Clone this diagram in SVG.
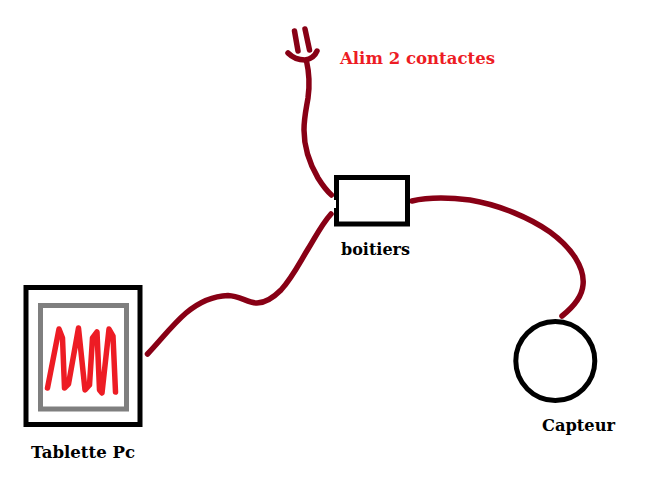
<svg xmlns="http://www.w3.org/2000/svg" width="654" height="480" viewBox="0 0 654 480">
<style>
.w{fill:none;stroke:#880015;stroke-width:5.500;stroke-linecap:round;stroke-linejoin:round}
.k{fill:none;stroke:#000;stroke-width:5}
.t{font-family:"DejaVu Serif","Liberation Serif",serif;font-weight:bold;font-size:16.500px;fill:#000;stroke:none}
</style>
<rect width="654" height="480" fill="#fff"/>
<g id="connectors">
<path class="w" d="M294.500 31L298 51M305 29L309.500 50"/>
<path class="w" d="M288 53C293 58 299 60 305 60C311 59 315 56 317 51"/>
<path class="w" d="M306.500 61C309 72 310 84 308 98C306 110 304 118 304 130C304 150 311 166 318 178C323 186 327 191 331.500 195"/>
<path class="w" d="M147.500 354C160 341 172 325 186 313C198 303 212 296 228 295.500C240 296 248 303 257 303C266 303 273 298 281 290C292 278 300 262 308 249C316 236 322 224 331 214"/>
<path class="w" d="M412 201C425 198 445 197 470 200C500 205 530 218 550 232C572 248 585 268 583 285C582 298 572 308 562 316"/>
</g>
<g id="alim"><text class="t" x="340" y="64" style="fill:#ed1c24" textLength="155" lengthAdjust="spacingAndGlyphs">Alim 2 contactes</text></g>
<g id="boitiers">
<rect class="k" x="336.500" y="177.500" width="71" height="46.500"/>
<rect x="333" y="200" width="3" height="8" fill="#fff"/>
<text class="t" x="341" y="255" textLength="69" lengthAdjust="spacingAndGlyphs">boitiers</text>
</g>
<g id="capteur">
<circle cx="555.300" cy="361" r="39.500" fill="none" stroke="#000" stroke-width="5"/>
<text class="t" x="542" y="431" textLength="73" lengthAdjust="spacingAndGlyphs">Capteur</text>
</g>
<g id="tablette">
<rect class="k" x="26" y="287.500" width="114" height="137"/>
<rect x="40.500" y="305.500" width="86" height="103.500" fill="none" stroke="#7f7f7f" stroke-width="5"/>
<path d="M47.500 388L59 329L62.500 338L64.500 388L68.500 384L78.500 328L85 390L89.500 385L92.500 338L97 332L99.500 390L102 393L109 329L113 336L115.500 392" fill="none" stroke="#ed1c24" stroke-width="5.500" stroke-linecap="round" stroke-linejoin="round"/>
<text class="t" x="31" y="458" textLength="104" lengthAdjust="spacingAndGlyphs">Tablette Pc</text>
</g>
</svg>
